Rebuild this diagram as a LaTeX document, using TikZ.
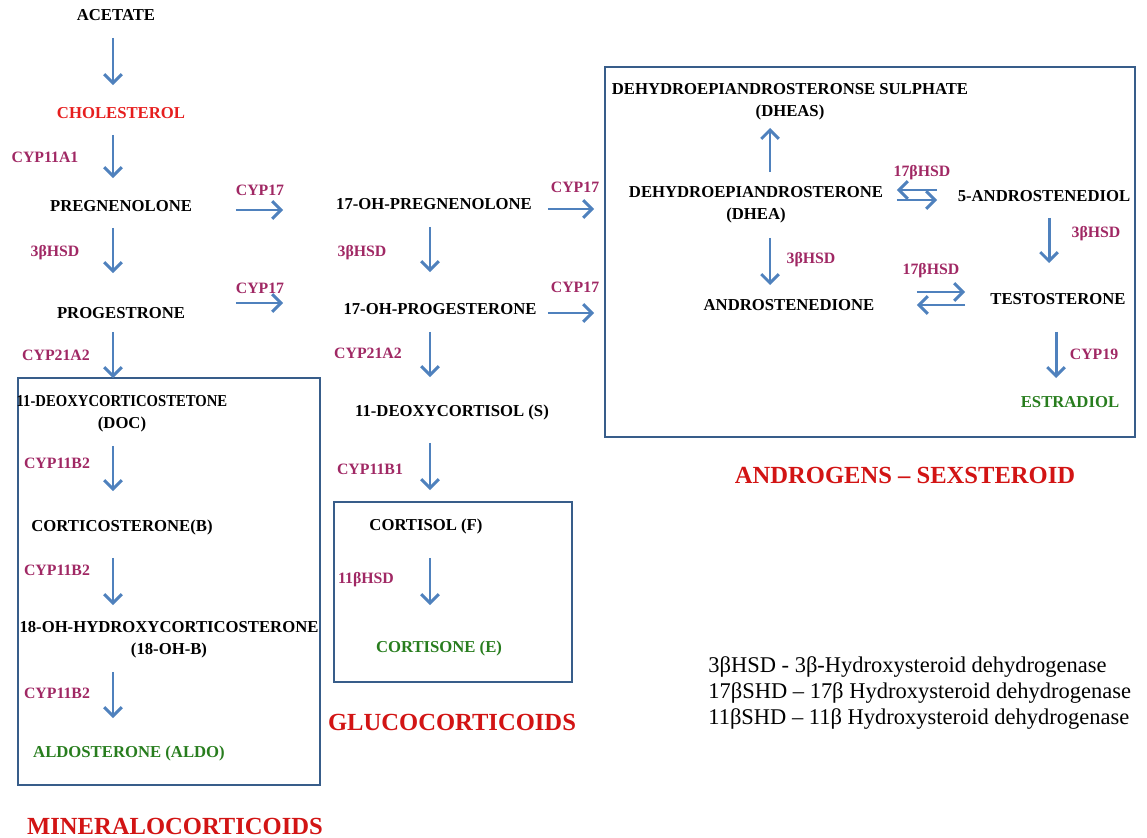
\documentclass[tikz,border=0pt]{standalone}
\usepackage{fontspec}
\setmainfont{Liberation Serif}
\usetikzlibrary{arrows.meta}
\usetikzlibrary{positioning}

\definecolor{arrc}{RGB}{79,129,189}
\definecolor{boxc}{RGB}{56,93,138}
\definecolor{enzc}{RGB}{160,40,100}
\definecolor{cholred}{RGB}{230,30,30}
\definecolor{grpred}{RGB}{210,20,20}
\definecolor{prodgreen}{RGB}{40,125,30}

\tikzset{
  met/.style={font=\fontsize{9.5}{12.5}\selectfont\bfseries, inner sep=0pt, align=center},
  enz/.style={font=\fontsize{9}{11}\selectfont\bfseries, text=enzc, inner sep=0pt},
  grp/.style={font=\fontsize{14}{16}\selectfont\bfseries, text=grpred, inner sep=0pt},
  grpbox/.style={draw=boxc, line width=1.3pt},
  flow/.style 2 args={draw=arrc, line width=1.7pt, shorten <=#1, shorten >=#2,
    -{Straight Barb[length=5pt,width=10pt]}}
}

\begin{document}
\begin{tikzpicture}[x=0.02cm, y=-0.02cm]
\useasboundingbox (0,0) rectangle (1147,838);

% group boxes
\draw[grpbox] (18,378) rectangle (320,785);
\draw[grpbox] (334,502) rectangle (572,682);
\draw[grpbox] (605,67) rectangle (1135,437);

% columns of the vertical arrows
\coordinate (colA) at (113,0);
\coordinate (colB) at (430,0);
\coordinate (colC) at (770,0);
\coordinate (colD) at (1049,0);
\coordinate (colE) at (1056,0);

% main chain
\node[met] (acetate) at (116,15) {ACETATE};
\node[met, text=cholred] (chol) at (121,113) {CHOLESTEROL};
\node[met] (preg) at (121,206) {PREGNENOLONE};
\node[met] (prog) at (121,313) {PROGESTRONE};

% mineralocorticoids
\node[met] (doc) at (122,414) {\scalebox{0.88}[1]{11-DEOXYCORTICOSTETONE}\\(DOC)};
\node[met] (cortico) at (122,527) {CORTICOSTERONE(B)};
\node[met] (ohb) at (169,640) {18-OH-HYDROXYCORTICOSTERONE\\(18-OH-B)};
\node[met, text=prodgreen] (aldo) at (129,753) {ALDOSTERONE (ALDO)};

% glucocorticoids
\node[met] (ohpreg) at (434,204) {17-OH-PREGNENOLONE};
\node[met] (ohprog) at (440,309) {17-OH-PROGESTERONE};
\node[met] (deoxy) at (452,412) {11-DEOXYCORTISOL (S)};
\node[met] (cortisol) at (426,526) {CORTISOL (F)};
\node[met, text=prodgreen] (cortisone) at (439,648) {CORTISONE (E)};

% androgens
\node[met] (dheas) at (790,102) {DEHYDROEPIANDROSTERONSE SULPHATE\\(DHEAS)};
\node[met] (dhea) at (756,205) {DEHYDROEPIANDROSTERONE\\(DHEA)};
\node[met] (andro) at (789,305) {ANDROSTENEDIONE};
\node[met] (diol) at (1044,196) {5-ANDROSTENEDIOL};
\node[met] (testo) at (1058,299) {TESTOSTERONE};
\node[met, text=prodgreen] (estra) at (1070,402) {ESTRADIOL};

% enzymes
\node[enz] (e1) at (45,157) {CYP11A1};
\node[enz] (e2) at (55,253) {3βHSD};
\node[enz] (e3) at (56,355) {CYP21A2};
\node[enz] (e4) at (57,463) {CYP11B2};
\node[enz] (e5) at (57,570) {CYP11B2};
\node[enz] (e6) at (57,693) {CYP11B2};
\node[enz] (e7) at (260,190) {CYP17};
\node[enz] (e8) at (260,288) {CYP17};
\node[enz] (e9) at (362,253) {3βHSD};
\node[enz] (e10) at (368,353) {CYP21A2};
\node[enz] (e11) at (370,469) {CYP11B1};
\node[enz] (e12) at (366,580) {11βHSD};
\node[enz] (e13) at (575,187) {CYP17};
\node[enz] (e14) at (575,287) {CYP17};
\node[enz] (e15) at (811,260) {3βHSD};
\node[enz] (e16) at (922,173) {17βHSD};
\node[enz] (e17) at (1096,234) {3βHSD};
\node[enz] (e18) at (931,271) {17βHSD};
\node[enz] (e19) at (1094,354) {CYP19};

% group names
\node[grp] (mineral) at (175,826) {MINERALOCORTICOIDS};
\node[grp] (gluco) at (452,722) {GLUCOCORTICOIDS};
\node[grp] (sex) at (905,475) {ANDROGENS – SEXSTEROID};

% key
\node[inner sep=0pt, align=left, anchor=west, font=\fontsize{12.8}{15}\selectfont] (key) at (708,693)
  {3βHSD - 3β-Hydroxysteroid dehydrogenase\\
   17βSHD – 17β Hydroxysteroid dehydrogenase\\
   11βSHD – 11β Hydroxysteroid dehydrogenase};

% vertical arrows
\draw[flow={0.46cm}{0.56cm}] (acetate -| colA) -- (chol -| colA);
\draw[flow={0.44cm}{0.56cm}] (chol -| colA) -- (preg -| colA);
\draw[flow={0.44cm}{0.80cm}] (preg -| colA) -- (prog -| colA);
\draw[flow={0.38cm}{0.72cm}] (prog -| colA) -- (doc -| colA);
\draw[flow={0.64cm}{0.72cm}] (doc -| colA) -- (cortico -| colA);
\draw[flow={0.62cm}{0.70cm}] (cortico -| colA) -- (ohb -| colA);
\draw[flow={0.64cm}{0.70cm}] (ohb -| colA) -- (aldo -| colA);

\draw[flow={0.46cm}{0.74cm}] (ohpreg -| colB) -- (ohprog -| colB);
\draw[flow={0.46cm}{0.70cm}] (ohprog -| colB) -- (deoxy -| colB);
\draw[flow={0.62cm}{0.72cm}] (deoxy -| colB) -- (cortisol -| colB);
\draw[flow={0.64cm}{0.86cm}] (cortisol -| colB) -- (cortisone -| colB);

\draw[flow={0.66cm}{0.52cm}] (dhea -| colC) -- (dheas -| colC);
\draw[flow={0.66cm}{0.40cm}] (dhea -| colC) -- (andro -| colC);
\draw[flow={0.44cm}{0.72cm}] (diol -| colD) -- (testo -| colD);
\draw[flow={0.66cm}{0.48cm}] (testo -| colE) -- (estra -| colE);

% horizontal arrows
\draw[flow={2.30cm}{3.02cm}] (preg |- 0,210) -- (ohpreg |- 0,210);
\draw[flow={2.30cm}{3.14cm}] (prog |- 0,303) -- (ohprog |- 0,303);
\draw[flow={2.28cm}{3.24cm}] (ohpreg |- 0,209) -- (dhea |- 0,209);
\draw[flow={2.16cm}{3.90cm}] (ohprog |- 0,313) -- (andro |- 0,313);

% reversible steps
\draw[flow={2.14cm}{2.82cm}] (diol |- 0,190) -- (dhea |- 0,190);
\draw[flow={2.82cm}{2.14cm}] (dhea |- 0,200) -- (diol |- 0,200);
\draw[flow={2.56cm}{1.86cm}] (andro |- 0,292) -- (testo |- 0,292);
\draw[flow={1.86cm}{2.56cm}] (testo |- 0,305) -- (andro |- 0,305);
\end{tikzpicture}
\end{document}
